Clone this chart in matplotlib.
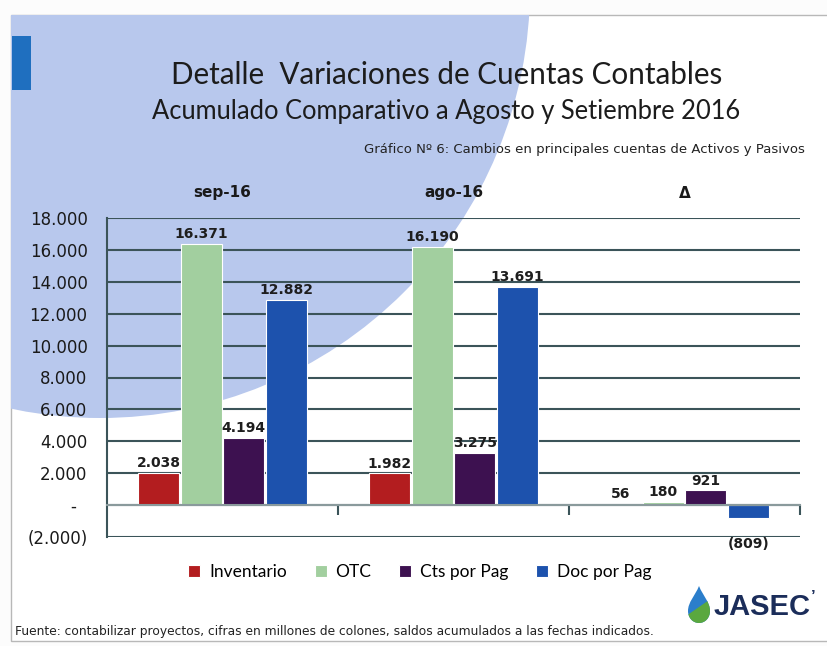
import matplotlib.pyplot as plt
import matplotlib.patches as patches
from matplotlib.path import Path
from matplotlib.transforms import offset_copy
import numpy as np

# datos (millones de colones)
categories = ['sep-16', 'ago-16', 'Δ']
series_names = ['Inventario', 'OTC', 'Cts por Pag', 'Doc por Pag']
inventario = [2038, 1982, 56]
otc = [16371, 16190, 180]
cts_por_pag = [4194, 3275, 921]
doc_por_pag = [12882, 13691, -809]
y_ticks = [-2000, 0, 2000, 4000, 6000, 8000, 10000, 12000, 14000, 16000, 18000]

colors = ['#b31d1f', '#a2cf9f', '#3d1150', '#1d52ad']


def fmt(v):
    if v < 0:
        return '(' + fmt(-v) + ')'
    if v == 0:
        return '-  '
    return f'{v:,.0f}'.replace(',', '.')


W, H = 828, 646
fig = plt.figure(figsize=(W / 100, H / 100), dpi=100)
fig.patch.set_facecolor('#fcfcfc')

# fondo de la diapositiva, en pixeles
bg = fig.add_axes([0, 0, 1, 1], zorder=0)
bg.set_xlim(0, W)
bg.set_ylim(H, 0)
bg.axis('off')

frame = patches.Rectangle((11, 15), W, 626, facecolor='white', edgecolor='#b8b8b8', lw=1)
bg.add_patch(frame)
circle = patches.Circle((100, -12), 430, facecolor='#b8c8ed', edgecolor='none')
bg.add_patch(circle)
circle.set_clip_path(frame)
bg.add_patch(patches.Rectangle((12, 36), 19, 54, facecolor='#1f6fbf', edgecolor='none'))

bg.text(447, 75, 'Detalle  Variaciones de Cuentas Contables', ha='center', va='center',
        fontsize=21.3, family='Lato', color='#1c1c1c')
bg.text(446, 111, 'Acumulado Comparativo a Agosto y Setiembre 2016', ha='center', va='center',
        fontsize=18.4, family='Lato', color='#1c1c1c')
bg.text(805, 149, 'Gráfico Nº 6: Cambios en principales cuentas de Activos y Pasivos',
        ha='right', va='center', fontsize=9.5, family='DejaVu Sans', color='#222222')
bg.text(15, 632, 'Fuente: contabilizar proyectos, cifras en millones de colones, '
        'saldos acumulados a las fechas indicados.',
        ha='left', va='center', fontsize=8.8, family='DejaVu Sans', color='#222222')

# logo JASEC
verts = [(699, 586), (703, 596), (710, 602), (710, 611),
         (710, 618), (705, 623), (699, 623),
         (693, 623), (688, 618), (688, 611),
         (688, 602), (695, 596), (699, 586), (699, 586)]
codes = [Path.MOVETO] + [Path.CURVE4] * 12 + [Path.CLOSEPOLY]
drop = patches.PathPatch(Path(verts, codes), facecolor='#2b7ecb', edgecolor='none')
bg.add_patch(drop)
green = patches.Polygon([(686, 616), (699, 607), (712, 598), (712, 626), (686, 626)],
                        facecolor='#5aa83f', edgecolor='none')
bg.add_patch(green)
green.set_clip_path(drop)
bg.text(714, 607, 'JASEC', ha='left', va='center', fontsize=21, fontweight='bold',
        family='Liberation Sans', color='#1b2d5a')
bg.text(811, 597, '’', ha='left', va='center', fontsize=12, fontweight='bold',
        family='Liberation Sans', color='#1b2d5a')

# grafico
ax = fig.add_axes([107 / W, 1 - 537 / H, 693 / W, 319 / H], zorder=1)
ax.patch.set_alpha(0)
ax.set_axisbelow(True)

x = np.arange(len(categories))
width = 0.178
step = 0.185
all_values = [inventario, otc, cts_por_pag, doc_por_pag]
containers = []
for i, (vals, name, c) in enumerate(zip(all_values, series_names, colors)):
    bars = ax.bar(x + (i - 1.5) * step, vals, width, color=c, edgecolor='white',
                  linewidth=0.8, label=name, zorder=2)
    containers.append(bars)
    anns = ax.bar_label(bars, labels=[fmt(v) for v in vals], padding=2,
                        fontsize=10, fontweight='bold', family='DejaVu Sans', color='#1e1e1e')
    for v, a in zip(vals, anns):
        if v < 0:
            a.xyann = (0, -14)

ax.set_xlim(-0.5, 2.5)
ax.set_ylim(-2000, 18000)
ax.set_yticks(y_ticks, labels=[fmt(v) for v in y_ticks])
ax.yaxis.grid(True, color='#3b5459', lw=1.5)
ax.tick_params(axis='y', length=0, pad=14, labelsize=12, labelcolor='#1a1a1a')

# categorias arriba, marcas de separacion sobre la linea de cero
ax.set_xticks([])
ax.set_xticks([0.5, 1.5, 2.5], minor=True)
ax.tick_params(axis='x', which='minor', bottom=True, top=False, direction='out',
               length=7, width=1.5, color='#3b5459', labelbottom=False)
top_tr = offset_copy(ax.get_xaxis_transform(), fig=fig, x=0, y=18, units='points')
for xi, cat in zip(x, categories):
    ax.text(xi, 1.0, cat, transform=top_tr, ha='center', va='center',
            fontsize=11, fontweight='bold', color='#1a1a1a')

ax.spines['bottom'].set_position(('data', 0))
ax.spines['bottom'].set_color('#8a9a9c')
ax.spines['bottom'].set_linewidth(1.5)
ax.spines['left'].set_color('#3b5459')
ax.spines['left'].set_linewidth(1.5)
ax.spines['top'].set_visible(False)
ax.spines['right'].set_visible(False)

fig.legend(handles=containers, labels=series_names, loc='center',
           bbox_to_anchor=(0.507, 1 - 572 / H), ncol=4, frameon=False,
           handlelength=0.7, handleheight=0.7, handletextpad=0.5, columnspacing=1.6,
           prop={'family': 'Lato', 'size': 12.5})

fig.savefig('out.png', dpi=100, facecolor=fig.get_facecolor())
